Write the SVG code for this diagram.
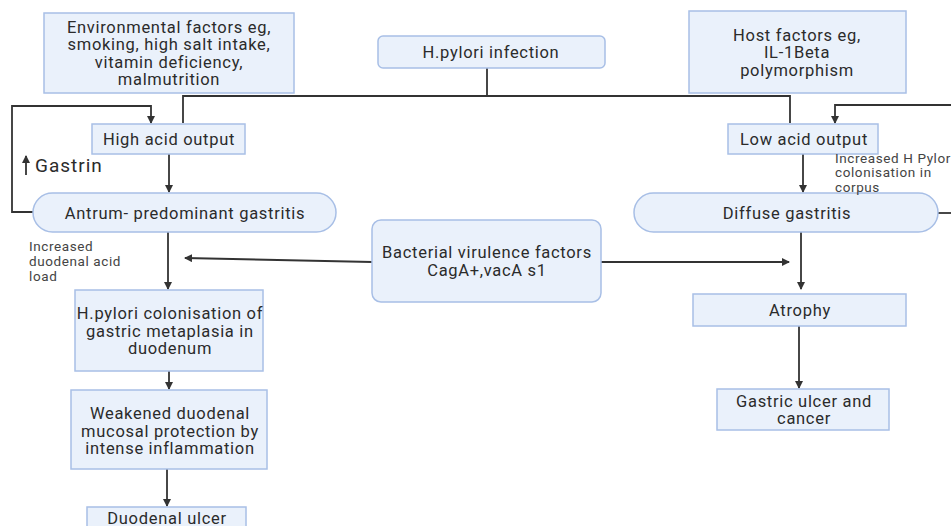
<svg xmlns="http://www.w3.org/2000/svg" width="951" height="526" viewBox="0 0 951 526">
<defs>
<marker id="ah" markerWidth="8" markerHeight="8" refX="7" refY="4" orient="auto" markerUnits="userSpaceOnUse">
<path d="M0,0 L8,4 L0,8 Z" fill="#333"/>
</marker>
<style>
.box{fill:#EAF1FB;stroke:#A8BFE6;stroke-width:1.5}
.t{font-family:Roboto,"Liberation Sans",sans-serif;font-size:16.5px;letter-spacing:0.7px;fill:#2b2b2b;text-anchor:middle;dominant-baseline:central}
.lbl{font-family:Roboto,"Liberation Sans",sans-serif;font-size:13.5px;letter-spacing:0.6px;fill:#444}
.c{fill:none;stroke:#333;stroke-width:1.8}
.ca{fill:none;stroke:#333;stroke-width:1.8;marker-end:url(#ah)}
</style>
</defs>
<rect width="951" height="526" fill="#fff"/>
<g id="connectors">
<path class="c" d="M487,68 V96 M183,123 V96 H790 V123"/>
<path class="ca" d="M33,212 H12 V106 H151 V123"/>
<path class="ca" d="M169,154 V192"/>
<path class="ca" d="M168,232 V289"/>
<path class="ca" d="M169,371 V389"/>
<path class="ca" d="M167,469 V506"/>
<path class="ca" d="M372,262 L185,258"/>
<path class="ca" d="M601,262 H789"/>
<path class="ca" d="M951,105 H835 V123"/>
<path class="c" d="M938,213 H951"/>
<path class="ca" d="M803,154 V192"/>
<path class="ca" d="M801,232 V289"/>
<path class="ca" d="M799,326 V388"/>
<path class="ca" d="M26,175 V156"/>
</g>
<g id="env"><rect class="box" x="44" y="13" width="250" height="80"/>
<text class="t" x="169" y="27">Environmental factors eg,</text>
<text class="t" x="169" y="44.5">smoking, high salt intake,</text>
<text class="t" x="169" y="62">vitamin deficiency,</text>
<text class="t" x="169" y="79.5">malmutrition</text></g>
<g id="hpylori"><rect class="box" x="378" y="36" width="227" height="32" rx="5"/>
<text class="t" x="491" y="52">H.pylori infection</text></g>
<g id="host"><rect class="box" x="689" y="11" width="217" height="82"/>
<text class="t" x="797" y="35">Host factors eg,</text>
<text class="t" x="797" y="52.5">IL-1Beta</text>
<text class="t" x="797" y="70">polymorphism</text></g>
<g id="highacid"><rect class="box" x="92" y="124" width="153" height="30"/>
<text class="t" x="169" y="139">High acid output</text></g>
<g id="lowacid"><rect class="box" x="728" y="124" width="150" height="30"/>
<text class="t" x="804" y="139">Low acid output</text></g>
<g id="gastrin"><text class="t" x="35" y="165" style="font-size:19px;letter-spacing:1px;text-anchor:start">Gastrin</text></g>
<g id="antrum"><rect class="box" x="33" y="193" width="303" height="39" rx="19.5"/>
<text class="t" x="185" y="213">Antrum- predominant gastritis</text></g>
<g id="diffuse"><rect class="box" x="634" y="193" width="304" height="39" rx="19.5"/>
<text class="t" x="787" y="213">Diffuse gastritis</text></g>
<g id="lbl-duod"><text class="lbl" x="29" y="251">Increased</text>
<text class="lbl" x="29" y="266">duodenal acid</text>
<text class="lbl" x="29" y="281">load</text></g>
<g id="lbl-corpus"><text class="lbl" x="835" y="163">Increased H Pylori</text>
<text class="lbl" x="835" y="177">colonisation in</text>
<text class="lbl" x="835" y="192">corpus</text></g>
<g id="bacterial"><rect class="box" x="372" y="220" width="229" height="82" rx="9"/>
<text class="t" x="487" y="252">Bacterial virulence factors</text>
<text class="t" x="487" y="270">CagA+,vacA s1</text></g>
<g id="colonisation"><rect class="box" x="75" y="290" width="188" height="81"/>
<text class="t" x="170" y="313">H.pylori colonisation of</text>
<text class="t" x="170" y="331">gastric metaplasia in</text>
<text class="t" x="170" y="348">duodenum</text></g>
<g id="weakened"><rect class="box" x="71" y="390" width="196" height="79"/>
<text class="t" x="170" y="413">Weakened duodenal</text>
<text class="t" x="170" y="431">mucosal protection by</text>
<text class="t" x="170" y="448">intense inflammation</text></g>
<g id="duodenal"><rect class="box" x="87" y="507" width="159" height="30"/>
<text class="t" x="167" y="518">Duodenal ulcer</text></g>
<g id="atrophy"><rect class="box" x="693" y="294" width="213" height="32"/>
<text class="t" x="800" y="310">Atrophy</text></g>
<g id="gastric"><rect class="box" x="717" y="389" width="172" height="41"/>
<text class="t" x="804" y="401">Gastric ulcer and</text>
<text class="t" x="804" y="418">cancer</text></g>
</svg>
